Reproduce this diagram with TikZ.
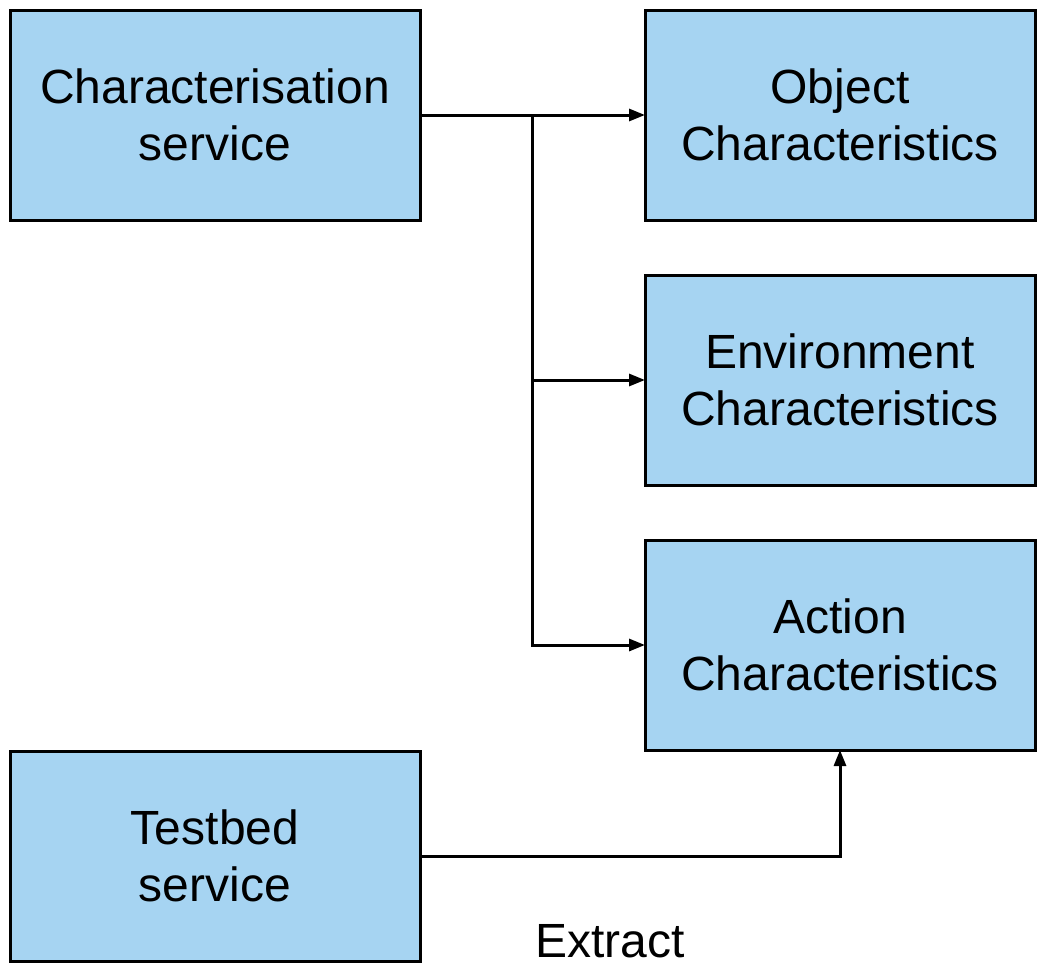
\documentclass[tikz,border=0pt]{standalone}
\usepackage{fontspec}
\setmainfont{Liberation Sans}
\usetikzlibrary{positioning,arrows.meta}
\definecolor{boxblue}{RGB}{166,212,242}

\begin{document}
\begin{tikzpicture}[x=0.5pt,y=-0.5pt,
  box/.style={draw,line width=1.5pt,fill=boxblue,minimum width=205pt,minimum height=105pt,
    align=center,inner sep=0pt,outer sep=0pt,font=\fontsize{24}{28.5}\selectfont},
  charbox/.style={box,minimum width=195pt},
  conn/.style={line width=1.5pt,-{Triangle[length=8pt,width=6pt]}}]
\useasboundingbox (0,0) rectangle (1045,964);
\node[box] (char) at (215,115) {Characterisation\\service};
\node[charbox,right=112.5pt of char] (obj) {Object\\Characteristics};
\node[charbox,below=27.5pt of obj] (env) {Environment\\Characteristics};
\node[charbox,below=27.5pt of env] (act) {Action\\Characteristics};
\node[box] (test) at (215,856) {Testbed\\service};
\node[font=\fontsize{24}{28.5}\selectfont,inner sep=0pt] (extract) at (610,941) {Extract};
\coordinate[right=56pt of char.east] (split);
\draw[conn] (char.east) -- (obj.west);
\draw[conn] (split) |- (env.west);
\draw[conn] (split) |- (act.west);
\draw[conn] (test.east) -| (act.south);
\end{tikzpicture}
\end{document}
